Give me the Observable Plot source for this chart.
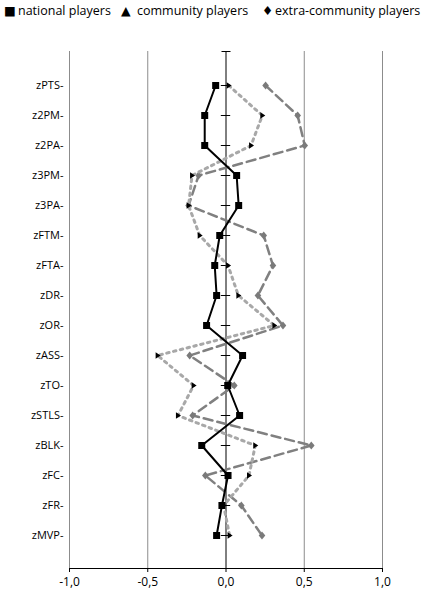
<!DOCTYPE html>
<html><head><meta charset="utf-8">
<script src="https://cdn.jsdelivr.net/npm/d3@7"></script>
<script src="https://cdn.jsdelivr.net/npm/@observablehq/plot@0.6"></script>
<style>
body{margin:0;background:#fff;font-family:"Open Sans",sans-serif;}
#legend{height:24px;position:relative;font-size:12.5px;color:#000;}
#legend span{position:absolute;top:2px;white-space:nowrap;line-height:18px;}
#legend .sym{font-family:"DejaVu Sans",sans-serif;}
</style></head><body>
<div id="legend"></div>
<div id="chart"></div>
<script>
const categories = ["zPTS","z2PM","z2PA","z3PM","z3PA","zFTM","zFTA","zDR","zOR","zASS","zTO","zSTLS","zBLK","zFC","zFR","zMVP"];
const national = [-0.066,-0.136,-0.136,0.068,0.081,-0.04,-0.072,-0.06,-0.124,0.106,0.011,0.087,-0.155,0.013,-0.026,-0.06];
const community = [0.017,0.232,0.16,-0.217,-0.239,-0.168,0.013,0.079,0.309,-0.437,-0.207,-0.307,0.187,0.147,-0.015,0.023];
const extraCommunity = [0.253,0.458,0.503,-0.175,-0.239,0.241,0.30,0.204,0.364,-0.232,0.053,-0.213,0.545,-0.132,0.098,0.23];
const xTicks = [-1,-0.5,0,0.5,1];
const gridTicks = [-1,-0.5,0.5,1];
const seriesNames = ["national players","community players","extra-community players"];

// legend
const legend = document.getElementById("legend");
const legendItems = [
  {t:"■", x:4, sym:true},{t:seriesNames[0], x:18},
  {t:"▲", x:121, sym:true},{t:seriesNames[1], x:137},
  {t:"♦", x:262, sym:true},{t:seriesNames[2], x:275}
];
for (const it of legendItems) {
  const s = document.createElement("span");
  s.textContent = it.t; s.style.left = it.x + "px";
  if (it.sym) s.className = "sym";
  legend.appendChild(s);
}

const toRows = (vals) => categories.map((c, i) => ({cat: c, value: vals[i]}));
const natRows = toRows(national), comRows = toRows(community), extRows = toRows(extraCommunity);

const squareSym = {draw(ctx){const s=3.5;ctx.moveTo(-s,-s);ctx.lineTo(s,-s);ctx.lineTo(s,s);ctx.lineTo(-s,s);ctx.closePath();}};
const triSym = {draw(ctx){ctx.moveTo(-2,-3.2);ctx.lineTo(3,0);ctx.lineTo(-2,3.2);ctx.closePath();}};
const diaSym = {draw(ctx){ctx.moveTo(0,-4);ctx.lineTo(3.3,0);ctx.lineTo(0,4);ctx.lineTo(-3.3,0);ctx.closePath();}};
const capSym = {draw(ctx){ctx.moveTo(-4.5,0);ctx.lineTo(4.5,0);}};

const fmt = d => d.toFixed(1).replace(".", ",");

const chart = Plot.plot({
  width: 425,
  height: 569,
  marginLeft: 69,
  marginRight: 43,
  marginTop: 27,
  marginBottom: 25,
  style: {fontFamily: "'Open Sans', sans-serif", fontSize: "11px", background: "#fff", color: "#000"},
  x: {domain: [-1, 1], label: null},
  y: {type: "point", domain: categories, padding: 1, label: null},
  marks: [
    Plot.ruleX(gridTicks, {stroke: "#8c8c8c", strokeWidth: 1}),
    Plot.ruleX([0], {stroke: "#000", strokeWidth: 1}),
    Plot.ruleY(categories, {y: d => d, x1: () => -0.03, x2: () => 0.03, stroke: "#000", strokeWidth: 1}),
    Plot.dot([0], {x: d => d, frameAnchor: "top", symbol: capSym, stroke: "#000", strokeWidth: 1, fill: "none"}),
    Plot.frame({anchor: "bottom", stroke: "#000", strokeWidth: 1}),
    Plot.axisX({ticks: xTicks, tickFormat: fmt, tickSize: 4, tickPadding: 5, fontSize: 12, stroke: "#000", label: null}),
    Plot.axisY({tickSize: 0, tickPadding: 6, tickFormat: d => d + "-", fontSize: 11, label: null}),
    Plot.line(extRows, {x: "value", y: "cat", stroke: "#808080", strokeWidth: 2.5, strokeDasharray: "9 5"}),
    Plot.dot(extRows, {x: "value", y: "cat", symbol: diaSym, fill: "#7a7a7a", stroke: "none"}),
    Plot.line(comRows, {x: "value", y: "cat", stroke: "#a8a8a8", strokeWidth: 3, strokeDasharray: "2.5 4.5"}),
    Plot.dot(comRows, {x: "value", y: "cat", symbol: triSym, fill: "#000", stroke: "none"}),
    Plot.line(natRows, {x: "value", y: "cat", stroke: "#000", strokeWidth: 2}),
    Plot.dot(natRows, {x: "value", y: "cat", symbol: squareSym, fill: "#000", stroke: "none"})
  ]
});
document.getElementById("chart").appendChild(chart);
</script>
</body></html>
